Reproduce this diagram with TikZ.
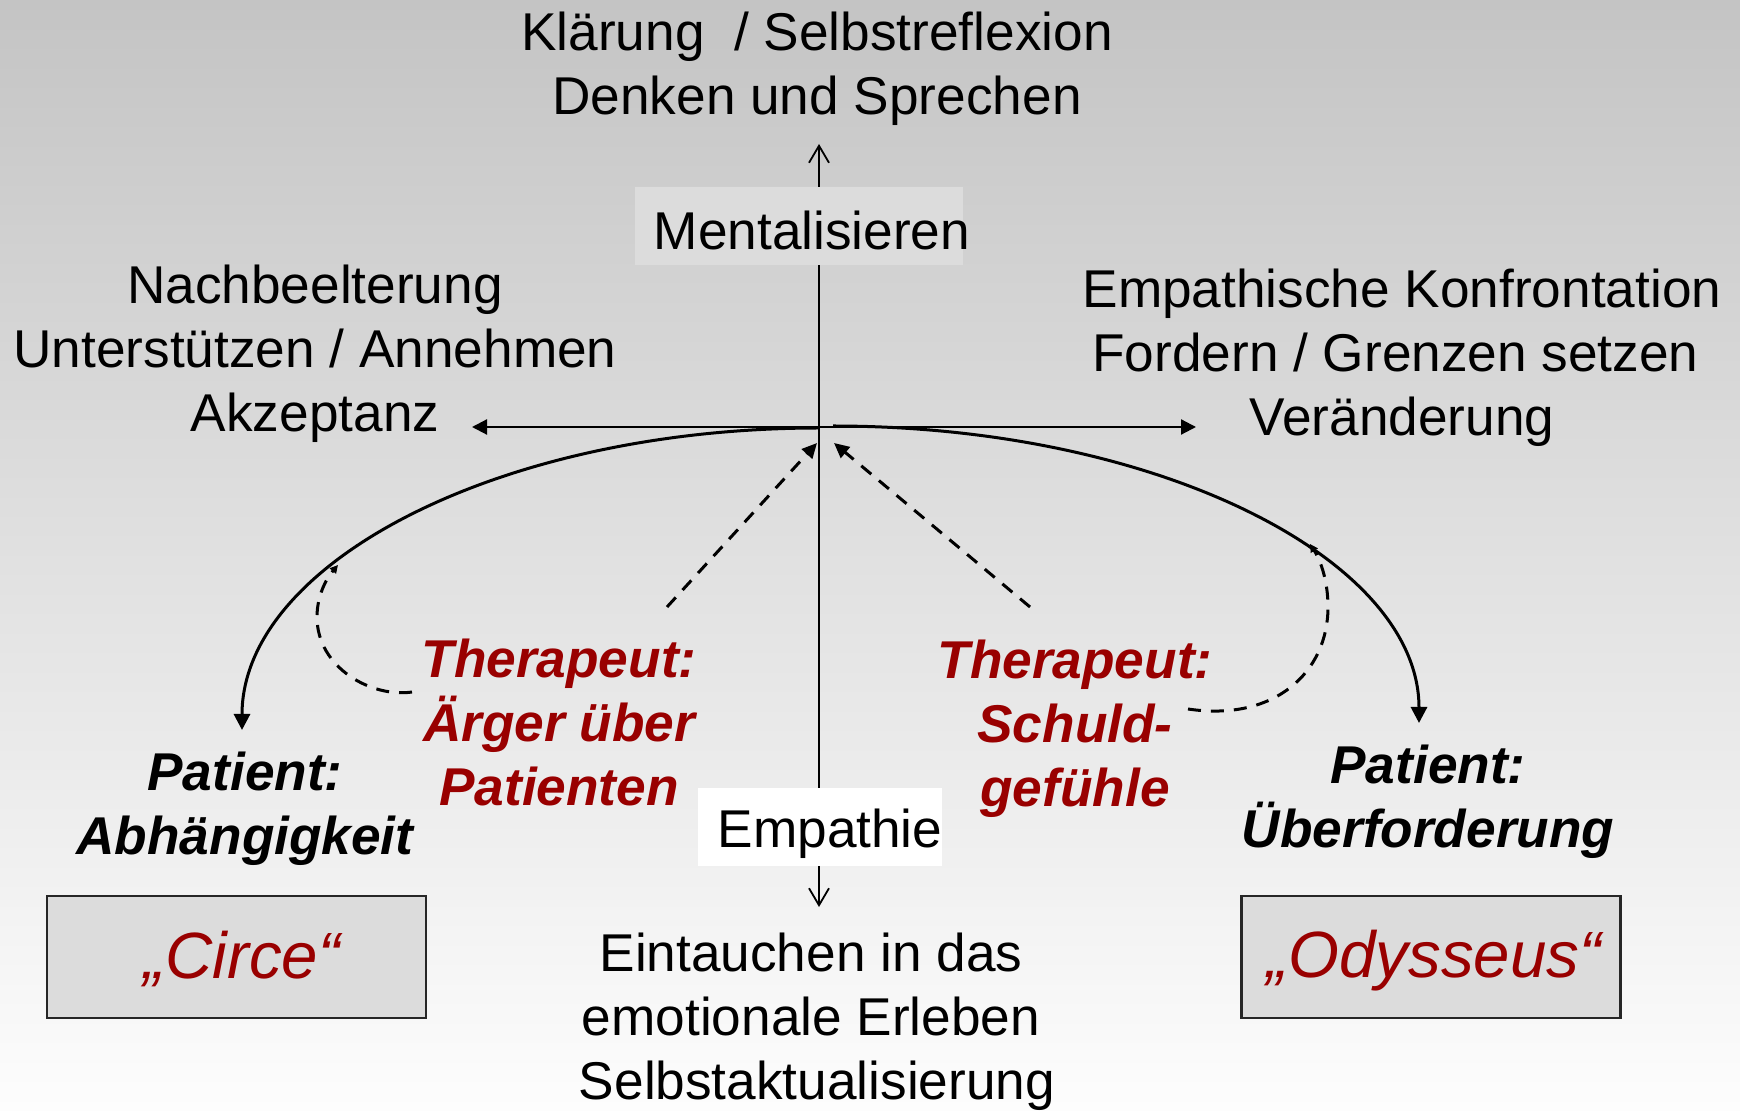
\documentclass[tikz,border=0pt]{standalone}
\usepackage{fontspec}
\setmainfont{Liberation Sans}
\usetikzlibrary{arrows.meta}
\definecolor{bgtop}{RGB}{196,196,196}
\definecolor{bgbot}{RGB}{253,253,253}
\definecolor{darkred}{RGB}{153,0,0}
\definecolor{boxgray}{RGB}{220,220,220}
\tikzset{
  txt/.style={inner sep=0pt, align=center, font=\fontsize{26.6}{32}\selectfont},
  bitxt/.style={txt, font=\fontsize{26.6}{32}\selectfont\bfseries\itshape},
  redtxt/.style={bitxt, text=darkred},
  namebox/.style={draw=black!85, line width=1.2pt, fill=boxgray, minimum width=189.5pt, minimum height=61pt, inner sep=0pt},
  nametxt/.style={inner sep=0pt, text=darkred, font=\fontsize{32.7}{38}\selectfont\itshape},
  haxis/.style={line width=1.1pt, {Triangle[length=7.5pt,width=7.5pt]}-{Triangle[length=7.5pt,width=7.5pt]}},
  vaxis/.style={line width=0.9pt, {Straight Barb[length=8.5pt,width=10pt]}-{Straight Barb[length=8.5pt,width=10pt]}},
  arc/.style={line width=1.5pt, -{Triangle[length=8pt,width=8pt]}},
  dasharr/.style={line width=1.5pt, dash pattern=on 6.5pt off 5pt, -{Triangle[length=7.5pt,width=7pt]}},
  dashloop/.style={line width=1.5pt, dash pattern=on 6.5pt off 5pt, -{Triangle[length=4pt,width=4pt]}},
}
\newcommand{\trail}[1]{\rule{#1}{0pt}}
\begin{document}
\begin{tikzpicture}[x=0.5pt,y=-0.5pt]
\useasboundingbox (0,0) rectangle (1740,1111);
\shade[top color=bgtop, bottom color=bgbot] (0,0) rectangle (1740,1111);

% axes
\coordinate (top) at (819,144);
\coordinate (bot) at (819,907);
\coordinate (lft) at (472,427);
\coordinate (rgt) at (1196,427);
\coordinate (o) at (819,427);
\draw[vaxis] (bot) -- (top);
\draw[haxis] (lft) -- (rgt);

% boxes on the vertical axis
\node[fill=boxgray, minimum width=164pt, minimum height=39pt, inner sep=0pt] (mentbox) at (799,226) {};
\node[txt] (ment) at (812,230) {Mentalisieren};
\node[fill=white, minimum width=122pt, minimum height=39pt, inner sep=0pt] (empbox) at (820,827) {};
\node[txt] (emp) at (830,834) {Empathie};

% texts
\node[txt] (klaer) at (817,69) {Klärung \ / Selbstreflexion\\Denken und Sprechen};
\node[txt] (nach) at (315,354) {Nachbeelterung\\Unterstützen / Annehmen\\Akzeptanz};
\node[txt] (konf) at (1402,358) {Empathische Konfrontation\\Fordern / Grenzen setzen\trail{6.5pt}\\Veränderung};
\node[txt] (eint) at (817,1022) {Eintauchen in das\trail{6pt}\\emotionale Erleben\trail{6pt}\\Selbstaktualisierung};

\node[redtxt] (thl) at (559,722) {Therapeut:\\Ärger über\\Patienten};
\node[redtxt] (thr) at (1075,729) {Therapeut:\\Schuld-\\gefühle};
\node[bitxt] (pl) at (245,809) {Patient:\\Abhängigkeit};
\node[bitxt] (pr) at (1428,802) {Patient:\\Überforderung};

\node[namebox] (circebox) at (236.5,957) {};
\node[nametxt] (circe) at (242,959) {„Circe“};
\node[namebox] (odybox) at (1431,957) {};
\node[nametxt] (ody) at (1434,961) {„Odysseus“};

% solid arcs
\coordinate (la) at (819,428);
\coordinate (lt) at (242,730);
\coordinate (ra) at (833,426);
\coordinate (rt) at (1419,723);
\draw[arc] (la) .. controls (500,428) and (242,563) .. (lt);
\draw[arc] (ra) .. controls (1157,426) and (1419,559) .. (rt);

% dashed loops
\coordinate (dl0) at (412,692);
\coordinate (dl1) at (338,565);
\coordinate (dr0) at (1188,709);
\coordinate (dr1) at (1310,544);
\draw[dashloop] (dl0) .. controls (372,698) and (317,668) .. (317,617) .. controls (317,596) and (326,579) .. (dl1);
\draw[dashloop] (dr0) .. controls (1275,722) and (1328,672) .. (1328,607) .. controls (1328,582) and (1321,561) .. (dr1);

% dashed straight arrows
\coordinate (sl0) at (667,607);
\coordinate (sl1) at (817,443);
\coordinate (sr0) at (1030,607);
\coordinate (sr1) at (834,443);
\draw[dasharr] (sl0) -- (sl1);
\draw[dasharr] (sr0) -- (sr1);
\end{tikzpicture}
\end{document}
